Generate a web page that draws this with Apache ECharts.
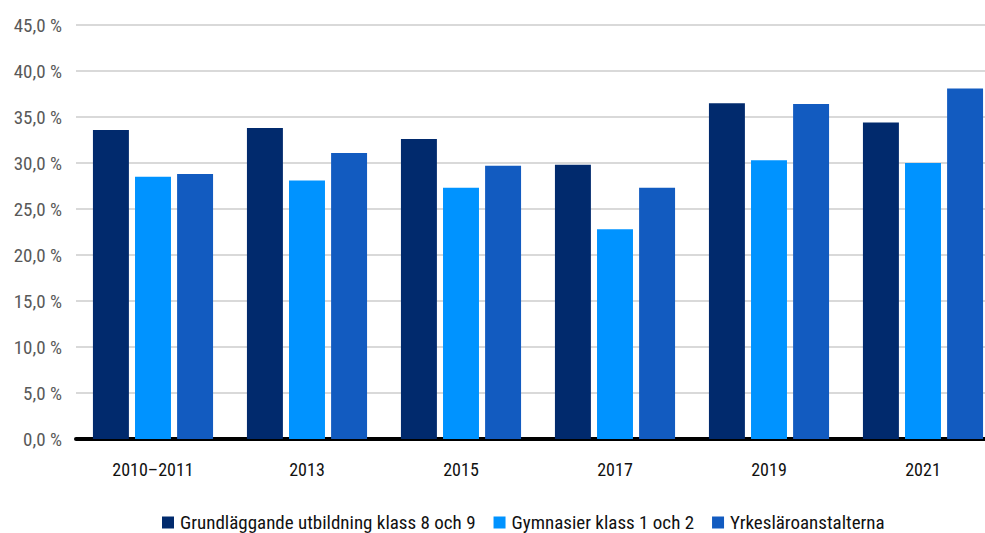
<!DOCTYPE html>
<html>
<head>
<meta charset="utf-8">
<script src="https://cdn.jsdelivr.net/npm/echarts@6/dist/echarts.min.js"></script>
<style>
  html, body { margin: 0; padding: 0; background: #fff; overflow: hidden; }
  #wrap { width: 985px; height: 533px; overflow: hidden; }
  /* the plot runs slightly past the right edge of the page */
  #chart { width: 1000px; height: 533px; }
  #chart text { font-stretch: condensed; }
</style>
</head>
<body>
<div id="wrap"><div id="chart"></div></div>
<script>
// Survey years
const categories = ['2010–2011', '2013', '2015', '2017', '2019', '2021'];

// Share (%) per school type
const seriesNames = [
  'Grundläggande utbildning klass 8 och 9',
  'Gymnasier klass 1 och 2',
  'Yrkesläroanstalterna'
];
const grundlaggande = [33.6, 33.8, 32.6, 29.8, 36.5, 34.4];
const gymnasier = [28.5, 28.1, 27.3, 22.8, 30.3, 30.0];
const yrkeslaroanstalterna = [28.8, 31.1, 29.7, 27.3, 36.4, 38.1];

const colors = ['#012a6d', '#0093ff', '#125bc0'];
const FONT = '"Roboto Condensed", "DejaVu Sans Condensed", "Liberation Sans Narrow", "DejaVu Sans", sans-serif';

const chart = echarts.init(document.getElementById('chart'), null, { renderer: 'svg' });
const values = [grundlaggande, gymnasier, yrkeslaroanstalterna];

chart.setOption({
  animation: false,
  textStyle: { fontFamily: FONT },
  grid: { left: 76, top: 25, right: 0, bottom: 94, containLabel: false },
  legend: {
    top: 513,
    left: 162,
    padding: 0,
    itemWidth: 12,
    itemHeight: 12,
    itemGap: 18,
    icon: 'rect',
    textStyle: { fontFamily: FONT, fontSize: 19, color: '#111', padding: [0, 0, 0, 1] },
    data: seriesNames
  },
  xAxis: {
    type: 'category',
    data: categories,
    axisLine: { lineStyle: { color: '#000', width: 4 } },
    axisTick: { show: false },
    axisLabel: { fontFamily: FONT, fontSize: 18, color: '#111', margin: 21 }
  },
  yAxis: {
    type: 'value',
    min: 0,
    max: 45,
    interval: 5,
    axisLine: { show: false },
    axisTick: { show: false },
    splitLine: { lineStyle: { color: '#d9d9d9', width: 2 } },
    axisLabel: {
      fontFamily: FONT,
      fontSize: 19,
      color: '#595959',
      margin: 14,
      formatter: v => v.toFixed(1).replace('.', ',') + ' %'
    }
  },
  series: seriesNames.map((name, i) => ({
    name,
    type: 'bar',
    data: values[i],
    barGap: '17%',
    barCategoryGap: '22%',
    itemStyle: { color: colors[i] }
  }))
});
</script>
</body>
</html>
